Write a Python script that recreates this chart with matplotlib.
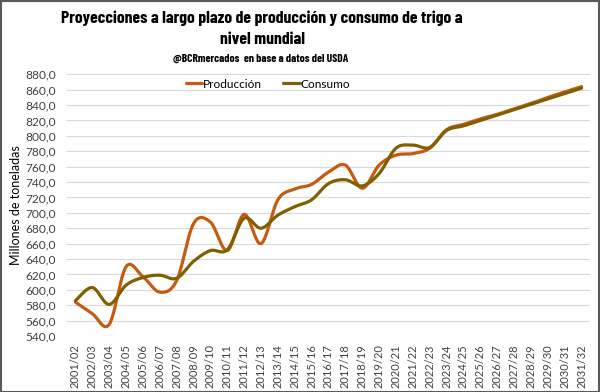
import numpy as np
import matplotlib
matplotlib.use('Agg')
import matplotlib.pyplot as plt
from matplotlib.patches import Rectangle

campanas = ["2001/02", "2002/03", "2003/04", "2004/05", "2005/06", "2006/07", "2007/08",
            "2008/09", "2009/10", "2010/11", "2011/12", "2012/13", "2013/14", "2014/15",
            "2015/16", "2016/17", "2017/18", "2018/19", "2019/20", "2020/21", "2021/22",
            "2022/23", "2023/24", "2024/25", "2025/26", "2026/27", "2027/28", "2028/29",
            "2029/30", "2030/31", "2031/32"]
produccion = [584, 569, 555, 630, 617, 597, 612, 686, 688, 651, 698, 660, 717, 731, 737,
              753, 762, 732, 762, 775, 777, 784, 808, 815, 822, 828, 835, 842, 850, 857, 864]
consumo = [586, 603, 581, 606, 616, 619, 615, 637, 651, 652, 693, 680, 697, 708, 717,
           738, 743, 735, 751, 784, 788, 785, 807, 813, 820, 827, 834, 841, 848, 855, 862]
yticks = [540, 560, 580, 600, 620, 640, 660, 680, 700, 720, 740, 760, 780, 800, 820, 840, 860, 880]


def smooth(x, y, n=24):
    x = np.asarray(x, float)
    y = np.asarray(y, float)
    P = np.column_stack([x, y])
    P = np.vstack([P[0], P, P[-1]])
    out = []
    for i in range(1, len(P) - 2):
        p0, p1, p2, p3 = P[i - 1], P[i], P[i + 1], P[i + 2]
        b1 = p1 + (p2 - p0) / 6.0
        b2 = p2 - (p3 - p1) / 6.0
        t = np.linspace(0, 1, n, endpoint=(i == len(P) - 3))[:, None]
        seg = ((1 - t) ** 3) * p1 + 3 * ((1 - t) ** 2) * t * b1 + 3 * (1 - t) * t ** 2 * b2 + t ** 3 * p2
        out.append(seg)
    out = np.vstack(out)
    return out[:, 0], out[:, 1]


plt.rcParams['font.family'] = ['Lato', 'DejaVu Sans']

fig = plt.figure(figsize=(6.0, 3.92), dpi=100)
ax = fig.add_axes([67 / 600, 1 - 336 / 392, 523 / 600, (336 - 74.3) / 392])

x = np.arange(len(campanas))
xs, ys = smooth(x, produccion)
xc, yc = smooth(x, consumo)
ax.plot(xs, ys, color='#C55A11', lw=2.3, label='Producción', solid_capstyle='round', zorder=3)
ax.plot(xc, yc, color='#7F6000', lw=2.3, label='Consumo', solid_capstyle='round', zorder=4)

ax.set_xlim(-0.5, len(campanas) - 0.5)
ax.set_ylim(540, 880)
ax.set_yticks(yticks)
ax.set_yticklabels([f"{v:.1f}".replace('.', ',') for v in yticks], fontsize=8.6, color='#404040')
ax.set_xticks(x)
ax.set_xticklabels(campanas, rotation=90, fontsize=8, color='#404040')
ax.tick_params(axis='y', length=0, pad=8)
ax.tick_params(axis='x', length=0, pad=6)
ax.grid(axis='y', color='#D9D9D9', lw=0.8)
ax.set_axisbelow(True)
for s in ax.spines.values():
    s.set_visible(False)
ax.set_ylabel('Millones de toneladas', fontsize=9, color='#000000', labelpad=2)

title_font = ['Barlow Condensed', 'Archivo Narrow', 'DejaVu Sans']
fig.text(262 / 600, 1 - 18 / 392, 'Proyecciones a largo plazo de producción y consumo de trigo a',
         ha='center', va='center', fontsize=12.7, fontweight='bold', family=title_font)
fig.text(262 / 600, 1 - 40 / 392, 'nivel mundial',
         ha='center', va='center', fontsize=12.7, fontweight='bold', family=title_font)
fig.text(261 / 600, 1 - 59 / 392, '@BCRmercados  en base a datos del USDA',
         ha='center', va='center', fontsize=8.3, fontweight='bold', family=title_font)

leg = fig.legend(loc='center', bbox_to_anchor=(268 / 600, 1 - 84 / 392), ncol=2, frameon=False,
                 fontsize=8.6, handlelength=1.35, handletextpad=0.1, columnspacing=1.8)

fig.add_artist(Rectangle((0.001, 0.001), 0.997, 0.996, transform=fig.transFigure,
                         fill=False, edgecolor='#595959', lw=1.5))

fig.savefig('out.png', dpi=100)
